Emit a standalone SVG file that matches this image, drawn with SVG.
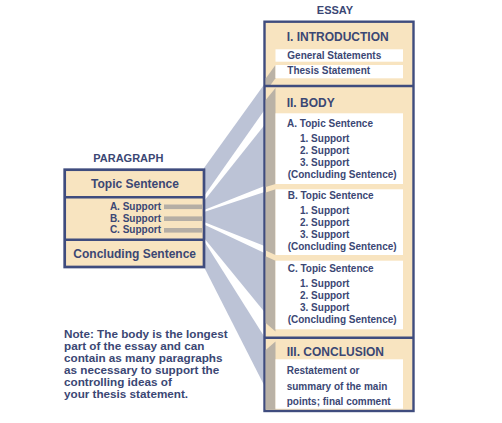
<svg xmlns="http://www.w3.org/2000/svg" width="502" height="423" viewBox="0 0 502 423">
<style>
.t{font-family:"Liberation Sans",Arial,sans-serif;font-weight:bold;fill:#3b4774}
.h{font-size:12px}
.s{font-size:10px}
.n{font-size:11.7px}
.box{fill:#f8e4c0;stroke:#3f4c7e}
.div{stroke:#3f4c7e;stroke-width:2.6}
.band{fill:#bcc3d6}
.shade{fill:#bab2a6}
.wb{fill:#ffffff}
.bar{fill:#b5aea5}
</style>
<rect width="502" height="423" fill="#ffffff"/>

<g id="connectors">
<polygon class="band" points="204,168 264.5,84 264.5,110 204,196"/>
<polygon class="band" points="204,201 264.5,125 264.5,186 204,210"/>
<polygon class="band" points="204,212 264.5,192 264.5,246 204,222"/>
<polygon class="band" points="204,224.5 264.5,253 264.5,312 204,238"/>
<polygon class="band" points="204,241 264.5,337 264.5,386 204,267"/>
</g>

<g id="paragraph">
<text class="t" x="128.3" y="161.7" font-size="11" text-anchor="middle">PARAGRAPH</text>
<rect class="box" x="64.7" y="169.7" width="139.3" height="97.3" stroke-width="2.7"/>
<line class="div" x1="64.7" y1="197.3" x2="204" y2="197.3" stroke-width="2.7"/>
<line class="div" x1="64.7" y1="239.7" x2="204" y2="239.7" stroke-width="2.7"/>
<rect class="bar" x="164" y="204.5" width="38.7" height="4.6"/>
<rect class="bar" x="164" y="216.4" width="38.7" height="4.6"/>
<rect class="bar" x="164" y="228" width="38.7" height="4.6"/>
<text class="t h" x="135" y="188.3" text-anchor="middle">Topic Sentence</text>
<text class="t s" x="161" y="210" text-anchor="end">A. Support</text>
<text class="t s" x="161" y="221.7" text-anchor="end">B. Support</text>
<text class="t s" x="161" y="233.3" text-anchor="end">C. Support</text>
<text class="t h" x="134.7" y="258.3" text-anchor="middle">Concluding Sentence</text>
</g>

<g id="essay">
<text class="t" x="335" y="14.3" font-size="11" text-anchor="middle">ESSAY</text>
<rect class="box" x="264.5" y="21.7" width="149" height="389.3" stroke-width="2.4"/>
<g id="shading">
<polygon class="shade" points="275.5,65 275.5,78.3 270.5,85 265.7,85 265.7,78.5"/>
<polygon class="shade" points="265.7,100 275.5,88 275.5,184 265.7,187"/>
<polygon class="shade" points="265.7,192.5 275.5,189.3 275.5,255 265.7,250.5"/>
<polygon class="shade" points="265.7,256.2 275.5,260.7 275.5,331.5 265.7,323"/>
<polygon class="shade" points="265.7,350 275.5,341.5 275.5,409.7 265.7,409.7"/>
</g>
<g id="introduction">
<text class="t h" x="286.7" y="40.7">I. INTRODUCTION</text>
<rect class="wb" x="275.5" y="49.3" width="127.5" height="12.4"/>
<rect class="wb" x="275.5" y="65" width="127.5" height="13.3"/>
<text class="t s" x="287.3" y="59.3">General Statements</text>
<text class="t s" x="287.3" y="74">Thesis Statement</text>
</g>
<line class="div" x1="264.5" y1="86" x2="413.5" y2="86" stroke-width="2.4"/>
<g id="body">
<text class="t h" x="286.7" y="107.3">II. BODY</text>
<g id="body-a">
<rect class="wb" x="275.5" y="113.3" width="127.5" height="70.7"/>
<text class="t s" x="287" y="127.3">A. Topic Sentence</text>
<text class="t s" x="300" y="141.7">1. Support</text>
<text class="t s" x="300" y="153.7">2. Support</text>
<text class="t s" x="300" y="165.7">3. Support</text>
<text class="t s" x="287.7" y="177.5">(Concluding Sentence)</text>
</g>
<g id="body-b">
<rect class="wb" x="275.5" y="189.3" width="127.5" height="65.7"/>
<text class="t s" x="287.7" y="198.7">B. Topic Sentence</text>
<text class="t s" x="300" y="214">1. Support</text>
<text class="t s" x="300" y="226">2. Support</text>
<text class="t s" x="300" y="238">3. Support</text>
<text class="t s" x="287.7" y="250">(Concluding Sentence)</text>
</g>
<g id="body-c">
<rect class="wb" x="275.5" y="260.7" width="127.5" height="68.6"/>
<text class="t s" x="287.7" y="271.7">C. Topic Sentence</text>
<text class="t s" x="300" y="287">1. Support</text>
<text class="t s" x="300" y="299">2. Support</text>
<text class="t s" x="300" y="311">3. Support</text>
<text class="t s" x="287.7" y="323.3">(Concluding Sentence)</text>
</g>
</g>
<line class="div" x1="264.5" y1="337.8" x2="413.5" y2="337.8" stroke-width="2.4"/>
<g id="conclusion">
<text class="t h" x="286.7" y="356">III. CONCLUSION</text>
<rect class="wb" x="275.5" y="359.3" width="127.5" height="49.4"/>
<text class="t s" x="286.7" y="373.5">Restatement or</text>
<text class="t s" x="286.7" y="389.5">summary of the main</text>
<text class="t s" x="286.7" y="405">points; final comment</text>
</g>
</g>

<g id="note">
<text class="t n" x="64" y="338.3">Note: The body is the longest</text>
<text class="t n" x="64" y="350.3">part of the essay and can</text>
<text class="t n" x="64" y="362.3">contain as many paragraphs</text>
<text class="t n" x="64" y="374.3">as necessary to support the</text>
<text class="t n" x="64" y="386.3">controlling ideas of</text>
<text class="t n" x="64" y="398.3">your thesis statement.</text>
</g>
</svg>
